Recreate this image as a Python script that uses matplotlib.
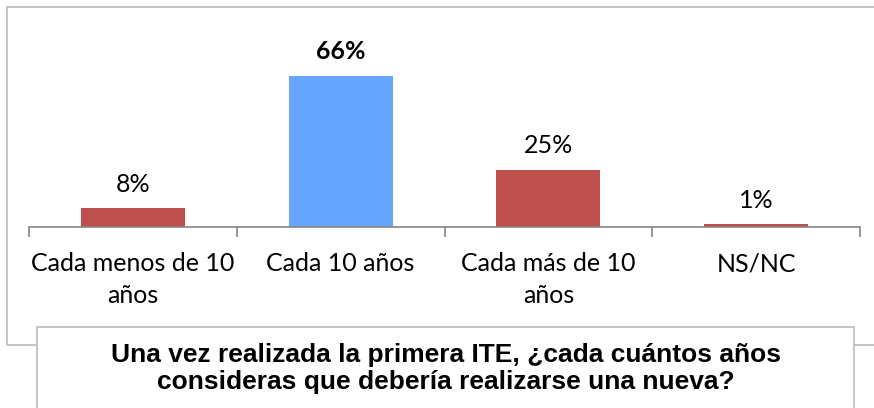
import matplotlib
matplotlib.use("Agg")
import matplotlib.pyplot as plt
import matplotlib.patches as mpatches

categories = ["Cada menos de 10\naños", "Cada 10 años", "Cada más de 10\naños", "NS/NC"]
values = [8, 66, 25, 1]
bar_colors = ["#C0504D", "#66A6FF", "#C0504D", "#C0504D"]
label_bold = [False, True, False, False]
title = "Una vez realizada la primera ITE, ¿cada cuántos años\nconsideras que debería realizarse una nueva?"

W, H = 874, 408
fig = plt.figure(figsize=(W / 100, H / 100), dpi=100)
fig.patch.set_facecolor("white")

# outer chart frame
fig.patches.append(mpatches.Rectangle((7 / W, (H - 345) / H), 2.0, (345 - 7) / H,
                                      transform=fig.transFigure, fill=False,
                                      edgecolor="#BFBFBF", linewidth=1.3))

ax = fig.add_axes([29 / W, (H - 226.7) / H, 831 / W, (226.7 - 66.9) / H])
x = range(len(categories))
bars = ax.bar(x, values, width=0.5, color=bar_colors, zorder=2)
ax.set_xlim(-0.5, 3.5)
ax.set_ylim(0, 70)
ax.set_yticks([])
for s in ["top", "right", "left"]:
    ax.spines[s].set_visible(False)
ax.spines["bottom"].set_color("#868686")
ax.spines["bottom"].set_linewidth(1.2)
ax.set_facecolor("none")

ax.set_xticks([i - 0.5 for i in range(len(categories) + 1)])
ax.set_xticklabels([])
ax.tick_params(axis="x", length=7, width=1.2, color="#868686", direction="out")

for i, cat in enumerate(categories):
    ax.annotate(cat, xy=(i, 0), xytext=(0, -18.5), textcoords="offset points",
                ha="center", va="top", fontsize=18, family=["Lato", "DejaVu Sans"],
                linespacing=1.45, annotation_clip=False)

for b, v, bold in zip(bars, values, label_bold):
    ax.annotate(f"{v}%", xy=(b.get_x() + b.get_width() / 2, v), xytext=(0, 17.5),
                textcoords="offset points", ha="center", va="center",
                fontsize=18, family=["Lato", "DejaVu Sans"],
                fontweight="bold" if bold else "normal")

# title box
fig.patches.append(mpatches.Rectangle((37 / W, -0.1), (854 - 37) / W, 0.1 + (H - 327) / H,
                                      transform=fig.transFigure, facecolor="white",
                                      edgecolor="#BFBFBF", linewidth=1.3, zorder=5))
fig.text(446 / W, (H - 368.5) / H, title, ha="center", va="center", fontsize=19,
         fontweight="bold", family=["Liberation Sans", "DejaVu Sans"],
         linespacing=1.2, zorder=6)

fig.savefig("out.png", dpi=100)
